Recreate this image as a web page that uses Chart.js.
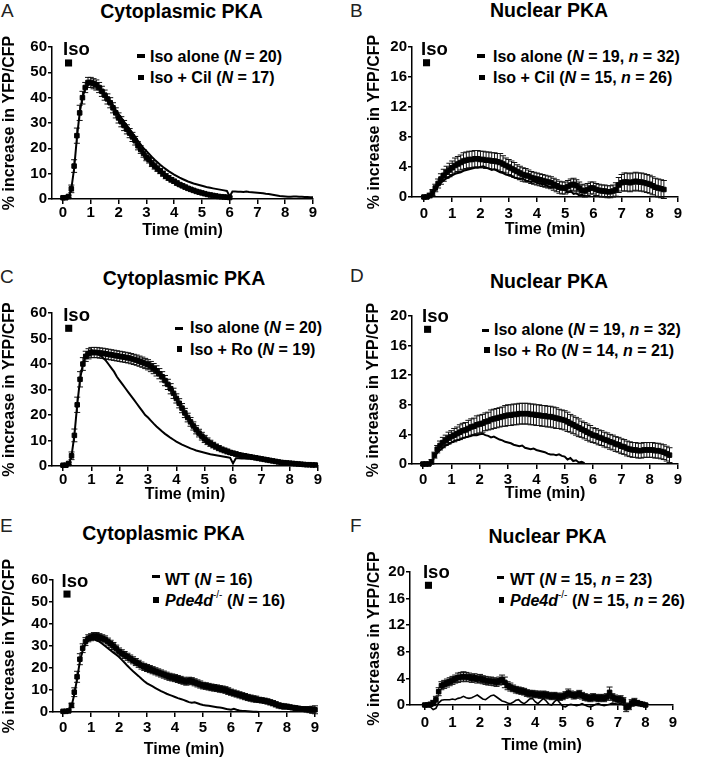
<!DOCTYPE html>
<html><head><meta charset="utf-8">
<script src="https://cdn.jsdelivr.net/npm/chart.js@4.4.1/dist/chart.umd.min.js"></script>
<style>
body{margin:0;background:#fff;}
#fig{position:relative;width:702px;height:760px;overflow:hidden;font-family:'Liberation Sans',Arial,Helvetica,sans-serif;color:#000;}
#fig canvas{position:absolute;}
.t{position:absolute;white-space:nowrap;line-height:1;}
.ttl{font-weight:bold;font-size:19.5px;width:240px;text-align:center;}
.let{font-size:19px;color:#222;}
.lg{font-weight:bold;font-size:16px;}
.lg sup{font-size:10px;font-weight:normal;line-height:0;position:relative;top:-1px;}
.dash{position:absolute;background:#000;height:3.5px;}
.sq{position:absolute;background:#000;width:5.5px;height:5.5px;}
</style></head><body>
<div id="fig">
  <div class="t let" style="left:1px;top:1px">A</div>
  <div class="t let" style="left:350px;top:1px">B</div>
  <div class="t let" style="left:0px;top:267px">C</div>
  <div class="t let" style="left:350px;top:266px">D</div>
  <div class="t let" style="left:0px;top:516px">E</div>
  <div class="t let" style="left:350px;top:516px">F</div>

  <div class="t ttl" style="left:61.5px;top:1.5px">Cytoplasmic PKA</div>
  <div class="t ttl" style="left:429px;top:0.5px">Nuclear PKA</div>
  <div class="t ttl" style="left:64px;top:268.5px">Cytoplasmic PKA</div>
  <div class="t ttl" style="left:429px;top:271.5px">Nuclear PKA</div>
  <div class="t ttl" style="left:43.5px;top:523.5px">Cytoplasmic PKA</div>
  <div class="t ttl" style="left:427.5px;top:526.5px">Nuclear PKA</div>

  <div class="dash" style="left:137px;top:54px;width:8px"></div>
  <div class="t lg" style="left:150px;top:48.5px">Iso alone (<i>N</i> = 20)</div>
  <div class="sq" style="left:138px;top:74.5px"></div>
  <div class="t lg" style="left:150px;top:69.5px">Iso + Cil (<i>N</i> = 17)</div>

  <div class="dash" style="left:477px;top:54px;width:8px"></div>
  <div class="t lg" style="left:493px;top:48.5px">Iso alone (<i>N</i> = 19, <i>n</i> = 32)</div>
  <div class="sq" style="left:479px;top:74.5px"></div>
  <div class="t lg" style="left:493px;top:69.5px">Iso + Cil (<i>N</i> = 15, <i>n</i> = 26)</div>

  <div class="dash" style="left:175px;top:326.5px;width:8px"></div>
  <div class="t lg" style="left:190px;top:319.5px">Iso alone (<i>N</i> = 20)</div>
  <div class="sq" style="left:176.5px;top:346px"></div>
  <div class="t lg" style="left:190px;top:341.5px">Iso + Ro (<i>N</i> = 19)</div>

  <div class="dash" style="left:482px;top:328.5px;width:7px"></div>
  <div class="t lg" style="left:494px;top:321.5px">Iso alone (<i>N</i> = 19, <i>n</i> = 32)</div>
  <div class="sq" style="left:484px;top:347px"></div>
  <div class="t lg" style="left:494px;top:342.5px">Iso + Ro (<i>N</i> = 14, <i>n</i> = 21)</div>

  <div class="dash" style="left:152px;top:574.5px;width:8px"></div>
  <div class="t lg" style="left:165px;top:571.5px">WT (<i>N</i> = 16)</div>
  <div class="sq" style="left:153px;top:597px"></div>
  <div class="t lg" style="left:165px;top:592.5px"><i>Pde4d</i><sup>-/-</sup> (<i>N</i> = 16)</div>

  <div class="dash" style="left:497px;top:575.5px;width:7px"></div>
  <div class="t lg" style="left:510px;top:571.5px">WT (<i>N</i> = 15, <i>n</i> = 23)</div>
  <div class="sq" style="left:498.5px;top:597px"></div>
  <div class="t lg" style="left:510px;top:592.5px"><i>Pde4d</i><sup>-/-</sup> (<i>N</i> = 15, <i>n</i> = 26)</div>
</div>
<script>
// ---------- data ----------
const time = [0,0.1,0.2,0.3,0.4,0.5,0.6,0.7,0.8,0.9,1.0,1.1,1.2,1.3,1.4,1.5,1.6,1.7,1.8,1.9,2.0,2.1,2.2,2.3,2.4,2.5,2.6,2.7,2.8,2.9,3.0,3.1,3.2,3.3,3.4,3.5,3.6,3.7,3.8,3.9,4.0,4.1,4.2,4.3,4.4,4.5,4.6,4.7,4.8,4.9,5.0,5.1,5.2,5.3,5.4,5.5,5.6,5.7,5.8,5.9,6.0,6.1,6.2,6.3,6.4,6.5,6.6,6.7,6.8,6.9,7.0,7.1,7.2,7.3,7.4,7.5,7.6,7.7,7.8,7.9,8.0,8.1,8.2,8.3,8.4,8.5,8.6,8.7,8.8,8.9,9.0];
const xTicks = [0,1,2,3,4,5,6,7,8,9];
const yTicksCyto = [0,10,20,30,40,50,60];
const yTicksNuc = [0,4,8,12,16,20];

// Cytoplasmic, Iso alone (N = 20) - panels A and C
const isoAloneCyto = [0,0,0.5,4,12,24,34,40,43.5,45, 45.5,45,44.5,43.5,42.5,41.5,40,38.5,37,35, 33.5,32,30.5,29,27.5,26,24.5,23,21.5,20, 19,17.8,16.6,15.5,14.5,13.5,12.6,11.8,11,10.3, 9.6,9,8.4,7.9,7.4,6.9,6.5,6.1,5.8,5.5, 5.2,4.9,4.6,4.4,4.2,4,3.8,3.6,3.4,3.2, 1.0,3.0,3.0,2.9,2.9,2.8,3.0,2.8,2.7,2.6, 2.5,2.4,2.3,2.1,2,1.8,1.6,1.4,1.2,1.1, 1,0.9,0.9,1,1,0.9,0.9,0.8,0.8,0.7, 0.7];
// Cytoplasmic, Iso + Cil (N = 17) - panel A
const cilCyto = [0.5,0.5,1,4,13,25,34,40,44,46, 46,45.5,45,44,42.5,41,39.5,38,36,34, 32,30.5,29,27.5,26,24.5,23,21,19.5,18, 16.5,15.5,14,13,12,11,10,9,8.3,7.6, 7,6.3,5.7,5.2,4.7,4.2,3.8,3.4,3,2.7, 2.4,2.1,1.8,1.6,1.4,1.2,1.0,0.9,0.8,0.7, 0.6];
const cilCytoErr = [0.3,0.3,0.5,1.5,2.5,3,3,2.5,2,2, 2,2,2,2,2,2,2,2,2,2, 2,2,2,1.8,1.8,1.8,1.7,1.6,1.5,1.5, 1.4,1.3,1.2,1.2,1.1,1,1,1,0.9,0.9, 0.8,0.8,0.7,0.7,0.7,0.6,0.6,0.6,0.5,0.5, 0.5,0.5,0.4,0.4,0.4,0.4,0.4,0.3,0.3,0.3, 0.3];
// Cytoplasmic, Iso + Ro (N = 19) - panel C
const roCyto = [0.3,0.3,1,4,12,24,34,40,43,44, 44.5,44.5,44.5,44.3,44.2,44,43.8,43.6,43.4,43.2, 43,42.8,42.6,42.4,42.1,41.8,41.5,41.1,40.7,40.2, 39.7,39,38.2,37.3,36.2,35,33.5,32,30.3,28.5, 26.5,24.6,22.7,20.8,19,17.3,15.7,14.2,12.9,11.7, 10.6,9.7,8.9,8.2,7.6,7.0,6.5,6.1,5.7,5.3, 5.0,4.7,4.4,4.2,4.0,3.8,3.6,3.4,3.2,3.0, 2.8,2.6,2.4,2.2,2.0,1.8,1.6,1.4,1.3,1.2, 1.1,1.0,0.9,0.8,0.7,0.6,0.5,0.5,0.4,0.4];
const roCytoErr = [0.3,0.3,0.5,1.5,2.5,3,3,2.5,2,2, 2,2,2,2,2,2,2,2,2,2, 2,2,2,2,2,2,2,2,2,2, 2,2,2,2,2,2,2,2,2,2, 1.8,1.8,1.8,1.8,1.7,1.7,1.6,1.6,1.5,1.5, 1.4,1.3,1.2,1.1,1,1,0.9,0.9,0.9,0.8, 0.8,0.8,0.7,0.7,0.7,0.7,0.6,0.6,0.6,0.6, 0.5,0.5,0.5,0.5,0.5,0.5,0.5,0.5,0.5,0.5, 0.4,0.4,0.4,0.4,0.4,0.4,0.4,0.4,0.4,0.4];
// Nuclear, Iso alone (N = 19, n = 32) - panels B and D
const isoAloneNuc = [0,0,0,0.3,1.0,1.5,1.9,2.2,2.5,2.7, 2.9,3.1,3.2,3.3,3.5,3.6,3.7,3.8,3.9,3.9, 4.0,4.1,3.9,3.8,3.6,3.7,3.5,3.3,3.2,3.0, 2.9,2.8,2.6,2.5,2.4,2.5,2.2,2.1,2.0,2.1, 1.9,1.8,1.7,1.6,1.4,1.3,1.3,1.2,1.3,1.1, 1.0,0.6,0.8,0.4,0.5,0.2,0.3,0.1];
// Nuclear, Iso + Cil (N = 15, n = 26) - panel B
const cilNuc = [0,0,0.2,0.6,1.2,1.8,2.4,2.9,3.3,3.6, 3.9,4.2,4.4,4.6,4.8,4.9,5.0,5.0,5.1,5.1, 5.0,5.0,4.9,4.9,4.8,4.8,4.7,4.6,4.4,4.2, 4.0,3.8,3.6,3.4,3.2,3.0,2.9,2.8,2.6,2.5, 2.4,2.3,2.2,2.1,2.0,1.9,1.7,1.5,1.3,1.2, 1.2,1.4,1.6,1.7,1.5,1.2,0.9,0.8,1.0,1.2, 1.2,1.0,0.9,0.8,0.8,0.7,0.7,0.8,1.0,1.6, 1.9,2.0,2.0,1.9,2.0,2.1,2.0,2.0,1.9,1.8, 1.7,1.5,1.3,1.2,1.1,1.0];
const cilNucErr = [0.2,0.2,0.3,0.4,0.5,0.6,0.7,0.8,0.8,0.9, 0.9,1.0,1.0,1.0,1.1,1.1,1.1,1.1,1.1,1.1, 1.1,1.1,1.1,1.1,1.1,1.1,1.1,1.2,1.1,1.0, 1.0,1.0,1.0,0.9,0.9,0.9,0.9,0.8,0.8,0.8, 0.8,0.8,0.8,0.8,0.8,0.8,0.8,0.8,0.8,0.8, 0.8,0.8,0.8,0.8,0.8,0.8,0.8,0.8,0.8,0.8, 0.8,0.8,0.8,0.8,0.8,0.8,0.8,0.8,0.9,1.0, 1.1,1.2,1.2,1.2,1.2,1.2,1.2,1.2,1.2,1.2, 1.2,1.2,1.2,1.2,1.2,1.2];
// Nuclear, Iso + Ro (N = 14, n = 21) - panel D
const roNuc = [0,0,0,0.3,1.2,2.0,2.5,2.9,3.2,3.5, 3.7,3.9,4.1,4.3,4.5,4.6,4.8,5.0,5.1,5.3, 5.4,5.5,5.7,5.8,6.0,6.1,6.2,6.3,6.4,6.5, 6.6,6.6,6.7,6.7,6.8,6.8,6.8,6.8,6.7,6.7, 6.6,6.6,6.5,6.5,6.4,6.4,6.3,6.2,6.1,6.0, 5.9,5.7,5.5,5.3,5.1,4.9,4.7,4.5,4.3,4.1, 3.9,3.8,3.6,3.5,3.3,3.2,3.0,2.9,2.7,2.6, 2.4,2.3,2.1,2.0,1.9,1.9,1.8,1.8,1.9,1.9, 1.9,1.9,1.8,1.8,1.7,1.6,1.4,1.2];
const roNucErr = [0.2,0.2,0.2,0.3,0.4,0.5,0.6,0.7,0.7,0.8, 0.8,0.9,0.9,1.0,1.0,1.0,1.1,1.1,1.1,1.2, 1.2,1.2,1.2,1.2,1.3,1.3,1.3,1.3,1.3,1.4, 1.4,1.4,1.4,1.4,1.4,1.4,1.4,1.4,1.4,1.4, 1.4,1.4,1.4,1.4,1.4,1.4,1.4,1.4,1.3,1.3, 1.3,1.3,1.2,1.2,1.2,1.2,1.1,1.1,1.1,1.1, 1.0,1.0,1.0,1.0,1.0,1.0,1.0,1.0,1.0,1.0, 1.0,1.0,1.0,1.0,1.0,1.0,1.0,1.0,1.0,1.0, 1.0,1.0,1.0,1.0,1.0,1.0,1.0,1.0];
// Cytoplasmic, WT (N = 16) - panel E
const wtCyto = [0,0,0.5,2.5,8,15,23,28,31,32.5, 33,33,32.5,32,31,30,29,28,27,26, 25,23.7,22.4,21,19.7,18.5,17.4,16.3,15.1,14, 13,12.3,11.6,10.9,10.2,9.5,8.9,8.3,7.8,7.3, 6.8,6.3,5.9,5.5,5,4.5,4.2,4.4,4.0,3.5, 3.2,3.0,2.8,2.6,2.4,2.2,2.0,1.8,1.5,1.2, 1.0,1.4,1.0,0.7,0.5,0.4,0.3,0.2,0.1,0.1, 0];
// Cytoplasmic, Pde4d-/- (N = 16) - panel E
const pdeCyto = [0.3,0.3,0.5,3,9,16,24,29,32,33.5, 34,34.5,34.5,34,33.5,33,32,31,30,28.8, 27.5,26.7,25.9,25.1,24.3,23.5,22.7,21.9,21.1,20.5, 20,19.5,19,18.5,18,17.5,17,16.5,16,15.7, 15.4,15,14.6,14.2,13.8,14.2,14.0,13.5,13,12.5, 12,11.8,11.5,11.2,11,10.8,10.5,10.3,10,9.5, 9,8.6,8.2,7.8,7.4,7.0,6.6,6.3,6,5.8, 5.5,5.3,5.1,4.8,4.4,4.0,3.5,3.0,2.7,2.5, 2.5,2.2,2,1.8,1.6,1.4,1.3,1.2,1.1,1.0, 1.0];
const pdeCytoErr = [0.2,0.2,0.4,1,2,2.5,2.5,2,1.8,1.6, 1.6,1.6,1.6,1.6,1.6,1.6,1.6,1.6,1.6,1.6, 1.6,1.6,1.6,1.6,1.6,1.6,1.6,1.6,1.6,1.6, 1.6,1.6,1.6,1.6,1.6,1.6,1.6,1.6,1.6,1.6, 1.6,1.6,1.6,1.6,1.6,1.6,1.6,1.6,1.6,1.6, 1.5,1.5,1.5,1.5,1.5,1.5,1.5,1.5,1.5,1.5, 1.4,1.4,1.4,1.4,1.4,1.4,1.4,1.4,1.4,1.4, 1.2,1.2,1.2,1.2,1.2,1.2,1.2,1.2,1.2,1.2, 1.0,1.0,1.0,1.0,1.0,1.0,1.0,1.2,1.4,1.6, 1.8];
// Nuclear, WT (N = 15, n = 23) - panel F
const wtNuc = [0,0,-0.3,-0.7,-0.5,0.3,0.7,0.8,0.8,0.8, 0.9,0.8,1.0,1.1,1.3,1.1,1.0,1.1,1.3,1.5, 1.2,0.9,0.8,1.1,1.4,1.5,1.2,0.9,0.6,0.5, 0.3,0.2,0.4,0.7,0.8,0.4,0.2,0.5,0.9,1.0, 0.5,0.2,0.6,1.0,0.6,0.1,0,0.5,0.8,0.3, -0.2,-0.3,0,0.1,0,-0.1,0,0.2,0,-0.2, -0.3,-0.1,0.1,0.2,0,-0.1,0,0.1,0.3,0.2, 0.1,0.2,0,-0.1,0,0.1,0,0,0,0, 0];
// Nuclear, Pde4d-/- (N = 15, n = 26) - panel F
const pdeNuc = [0,0,0.1,0.3,0.8,2.0,2.9,3.1,3.3,3.5, 3.7,3.9,4.1,4.2,4.3,4.2,4.2,4.0,4.1,3.9, 4.0,3.8,3.7,3.6,3.6,3.5,3.4,3.6,3.8,3.4, 2.9,2.7,2.5,2.3,2.2,2.1,2.0,1.8,1.7,1.7, 1.6,1.6,1.5,1.6,1.5,1.4,1.3,1.4,1.3,1.2, 1.3,1.5,1.8,1.6,1.4,1.5,1.7,1.4,1.2,1.1, 1.0,1.2,1.1,1.0,1.1,1.0,1.2,1.9,1.2,1.0, 0.8,0.9,0.6,-0.4,-0.2,0.3,0.5,0.3,0.2,0.1, 0.0];
const pdeNucErr = [0.2,0.2,0.3,0.4,0.5,0.6,0.6,0.6,0.6,0.6, 0.6,0.6,0.7,0.7,0.7,0.7,0.6,0.6,0.6,0.6, 0.6,0.6,0.6,0.6,0.6,0.6,0.6,0.6,0.7,0.8, 0.6,0.6,0.5,0.5,0.5,0.5,0.5,0.5,0.5,0.5, 0.5,0.5,0.5,0.5,0.5,0.5,0.5,0.5,0.5,0.5, 0.5,0.5,0.6,0.5,0.5,0.5,0.5,0.5,0.5,0.5, 0.5,0.5,0.5,0.5,0.5,0.5,0.5,0.8,0.5,0.5, 0.5,0.5,0.5,0.6,0.5,0.5,0.5,0.4,0.3,0.3, 0.2];
// Iso application marker per panel (A..F)
const isoTime = [0.2, 0.09, 0.2, 0.16, 0.14, 0.13];
const isoLevel = [53.7, 17.9, 54, 18.2, 53.6, 18.0];

// ---------- drawing ----------
Chart.defaults.font.family = "'Liberation Sans', Arial, Helvetica, sans-serif";
Chart.defaults.color = '#000';

const errorBars = {
  id: 'errorBars',
  beforeDatasetsDraw(chart) {
    const {ctx, scales: {x, y}} = chart;
    chart.data.datasets.forEach(ds => {
      if (!ds.errors) return;
      ctx.save();
      ctx.strokeStyle = '#111';
      ctx.lineWidth = 1;
      ctx.beginPath();
      ds.data.forEach((p, i) => {
        const e = ds.errors[i];
        if (e == null) return;
        const px = x.getPixelForValue(p.x);
        const y1 = y.getPixelForValue(p.y + e);
        const y2 = y.getPixelForValue(p.y - e);
        ctx.moveTo(px, y1); ctx.lineTo(px, y2);
        ctx.moveTo(px - 3, y1); ctx.lineTo(px + 3, y1);
        ctx.moveTo(px - 3, y2); ctx.lineTo(px + 3, y2);
      });
      ctx.stroke();
      ctx.restore();
    });
  }
};
const isoLabel = {
  id: 'isoLabel',
  afterDatasetsDraw(chart) {
    chart.data.datasets.forEach((ds, di) => {
      if (!ds.isoText) return;
      const pt = chart.getDatasetMeta(di).data[0];
      const ctx = chart.ctx;
      ctx.save();
      ctx.font = "bold 18.5px 'Liberation Sans', Arial, sans-serif";
      ctx.fillStyle = '#000';
      ctx.textAlign = 'left';
      ctx.textBaseline = 'alphabetic';
      ctx.fillText(ds.isoText, pt.x - 5.5, pt.y - 7.5);
      ctx.restore();
    });
  }
};

const pts = arr => arr.map((v, i) => ({x: time[i], y: v}));

const panels = [
  {box:[0,0,351,250],   area:[52,47,313,199], xMin:-0.396, yMax:60, yTicks:yTicksCyto, yTitlePad:0.4, xTitlePad:9.9, xTickPad:0, line:isoAloneCyto, sq:cilCyto, sqErr:cilCytoErr, lineOnTop:true, lw:2},
  {box:[351,0,351,250], area:[61,47,327,197], xMin:-0.425, yMax:20, yTicks:yTicksNuc, yTitlePad:14.4, xTitlePad:10.4, xTickPad:3, line:isoAloneNuc, sq:cilNuc, sqErr:cilNucErr, lineOnTop:false, lw:2},
  {box:[0,250,351,260], area:[52,63,318,216], xMin:-0.39, yMax:60, yTicks:yTicksCyto, yTitlePad:0.4, xTitlePad:5.9, xTickPad:0, line:isoAloneCyto, sq:roCyto, sqErr:roCytoErr, lineOnTop:true, lw:2},
  {box:[351,250,351,260], area:[61,66,327,214], xMin:-0.39, yMax:20, yTicks:yTicksNuc, yTitlePad:13, xTitlePad:6.9, xTickPad:2, line:isoAloneNuc, sq:roNuc, sqErr:roNucErr, lineOnTop:true, lw:2},
  {box:[0,500,351,260], area:[53,80,315,212], xMin:-0.36, yMax:60, yTicks:yTicksCyto, yTitlePad:0.4, xTitlePad:0.9, xTickPad:2, line:wtCyto, sq:pdeCyto, sqErr:pdeCytoErr, lineOnTop:false, lw:2},
  {box:[351,500,351,260], area:[59,72,322,205], xMin:-0.54, yMax:20, yTicks:yTicksNuc, yTitlePad:14, xTitlePad:4.9, xTickPad:4, line:wtNuc, sq:pdeNuc, sqErr:pdeNucErr, lineOnTop:true, lw:1.6}
];

const fig = document.getElementById('fig');
panels.forEach((p, k) => {
  const [bx, by, bw, bh] = p.box;
  const [L, T, R, B] = p.area;
  const cv = document.createElement('canvas');
  cv.width = bw; cv.height = bh;
  cv.style.left = bx + 'px'; cv.style.top = by + 'px';
  cv.style.width = bw + 'px'; cv.style.height = bh + 'px';
  fig.appendChild(cv);
  new Chart(cv, {
    type: 'scatter',
    data: {datasets: [
      {data: [{x: isoTime[k], y: isoLevel[k]}], isoText: 'Iso', pointStyle: 'rect', pointRadius: 5, pointBackgroundColor: '#000', pointBorderColor: '#000', pointBorderWidth: 0, order: 0, clip: false},
      {data: pts(p.line), showLine: true, borderColor: '#000', borderWidth: p.lw, pointRadius: 0, tension: 0, order: p.lineOnTop ? 1 : 3, clip: false},
      {data: pts(p.sq), errors: p.sqErr, showLine: false, pointStyle: 'rect', pointRadius: 3.2, pointBackgroundColor: '#000', pointBorderColor: '#000', pointBorderWidth: 1, order: 2, clip: false}
    ]},
    options: {
      responsive: false, animation: false, events: [],
      layout: {padding: {left: 0, top: T, right: bw - R, bottom: 0}},
      plugins: {legend: {display: false}, tooltip: {enabled: false}, title: {display: false}},
      scales: {
        x: {
          type: 'linear', min: p.xMin, max: 9,
          afterFit: s => { s.height = bh - B; },
          afterBuildTicks: s => { s.ticks = xTicks.map(v => ({value: v})); },
          grid: {drawOnChartArea: false, drawTicks: true, tickLength: 5, color: '#000', lineWidth: 1.5},
          border: {display: true, color: '#000', width: 1.5},
          ticks: {font: {size: 15, weight: 'bold'}, color: '#000', padding: p.xTickPad, maxRotation: 0, autoSkip: false},
          title: {display: true, text: 'Time (min)', color: '#000', font: {size: 16, weight: 'bold'}, padding: {top: 0, bottom: p.xTitlePad}}
        },
        y: {
          type: 'linear', min: 0, max: p.yMax,
          afterFit: s => { s.width = L; },
          afterBuildTicks: s => { s.ticks = p.yTicks.map(v => ({value: v})); },
          grid: {drawOnChartArea: false, drawTicks: true, tickLength: 4, color: '#000', lineWidth: 1.5},
          border: {display: true, color: '#000', width: 1.5},
          ticks: {font: {size: 15, weight: 'bold'}, color: '#000', padding: 1, autoSkip: false},
          title: {display: true, text: '% increase in YFP/CFP', color: '#000', font: {size: 16, weight: 'bold'}, padding: {top: p.yTitlePad, bottom: 0}}
        }
      }
    },
    plugins: [errorBars, isoLabel]
  });
});
</script>
</body></html>
